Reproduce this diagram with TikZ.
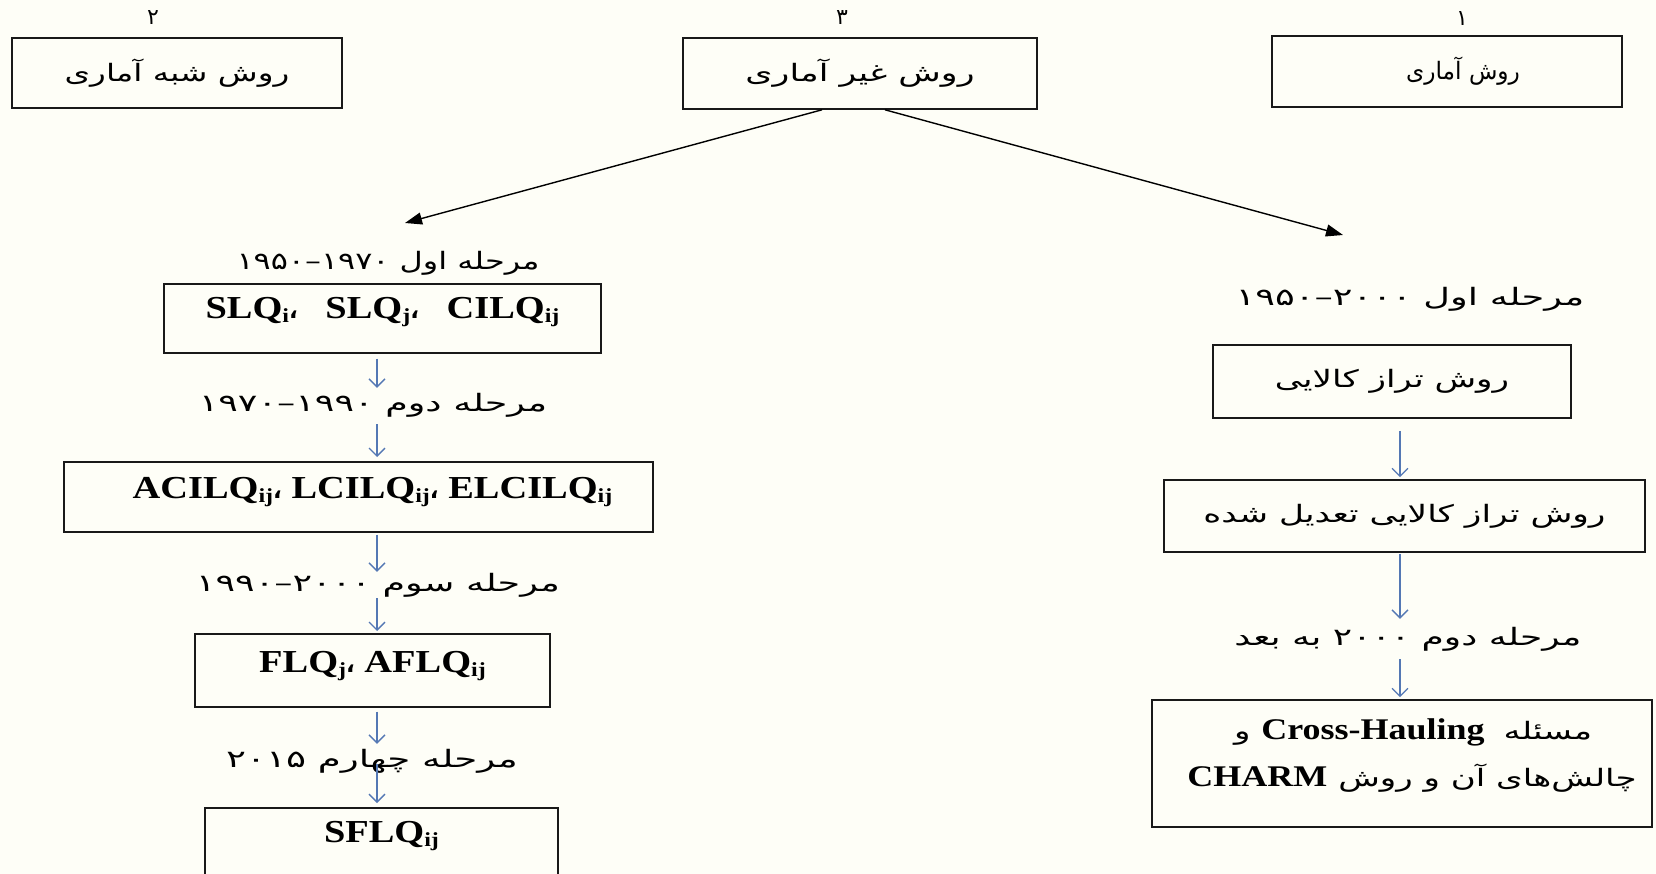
\documentclass[tikz,border=0pt]{standalone}
\usepackage{fontspec}
\usepackage{graphicx}
\usetikzlibrary{arrows.meta}
\setmainfont{Liberation Serif}
\newfontfamily\fa[Script=Arabic]{DejaVu Sans}
\newfontfamily\faw[Script=Arabic,FakeStretch=1.42]{DejaVu Sans}
\newfontfamily\lat[FakeStretch=1.2]{Liberation Serif}
\TeXXeTstate=1
\newcommand{\fx}[2]{\scalebox{#1}[1]{#2}}
\newcommand{\latb}[1]{{\lat\bfseries\fontsize{32}{36}\selectfont #1}}
\newcommand{\latc}[1]{{\lat\bfseries\fontsize{30}{34}\selectfont #1}}
\newcommand{\sbx}[1]{\raisebox{-0.12em}{\fontsize{20}{20}\selectfont #1}}
\newcommand{\acomma}{{\fa\fontsize{23}{24}\selectfont ،}}
\definecolor{bgc}{RGB}{254,254,247}
\definecolor{boxc}{RGB}{25,25,25}
\definecolor{arrc}{RGB}{84,120,180}
\begin{document}
\begin{tikzpicture}[x=1pt,y=-1pt,
  box/.style={draw=boxc, line width=1.6pt, inner sep=0pt},
  tbox/.style={box, inner ysep=0pt, anchor=north},
  fatxt/.style={font=\fa\fontsize{24}{28}\selectfont},
  wtxt/.style={font=\faw\fontsize{24}{28}\selectfont},
  lab/.style={fatxt, inner sep=0pt, text height=15pt, text depth=7pt},
  num/.style={font=\fa\fontsize{22}{24}\selectfont, inner sep=0pt},
  barrow/.style={draw=arrc, line width=1.3pt, -{Straight Barb[length=8pt,width=16pt]}},
  karrow/.style={draw=black, line width=1.4pt, -{Triangle[length=17pt,width=12pt]}}]
\clip (0,0) rectangle (1656,874);
\fill[bgc] (0,0) rectangle (1656,874);
% top row
\node[num] (n2) at (153,18) {۲};
\node[num] (n3) at (842,18) {۳};
\node[num] (n1) at (1462,19) {۱};
\node[box, fatxt, minimum width=330pt, minimum height=70pt] (b2) at (177,73) {\fx{1.36}{\beginR روش شبه آماری\endR}};
\node[box, fatxt, minimum width=354pt, minimum height=71pt] (b3) at (860,73.5) {\fx{1.45}{\beginR روش غیر آماری\endR}};
\node[box, fatxt, minimum width=350pt, minimum height=71pt] (b1) at (1447,71.5) {\hspace*{32pt}\fx{0.97}{\beginR روش آماری\endR}};
\coordinate (tl) at (405,223);
\coordinate (tr) at (1343,235);
\draw[karrow] ([xshift=-38pt]b3.south) -- (tl);
\draw[karrow] ([xshift=25pt]b3.south) -- (tr);
% left column
\coordinate (ax) at (377,0);
\node[lab] (lab1) at (388,266) {\fx{1.33}{\beginR مرحله اول \beginL۱۹۷۰–۱۹۵۰\endL\endR}};
\node[tbox, minimum width=437pt, text height=35pt, text depth=34pt] (l1) at (382.5,283)
  {\latb{SLQ\sbx{i}\acomma\hspace{18pt} SLQ\sbx{j}\acomma\hspace{18pt} CILQ\sbx{ij}}};
\node[lab] (lab2) at (373,407) {\fx{1.52}{\beginR مرحله دوم \beginL۱۹۹۰–۱۹۷۰\endL\endR}};
\node[tbox, minimum width=589pt, text height=37pt, text depth=33pt] (l2) at (358.5,461)
  {\hspace*{28pt}\latb{ACILQ\sbx{ij}\acomma\ LCILQ\sbx{ij}\acomma\ ELCILQ\sbx{ij}}};
\node[lab] (lab3) at (378,587) {\fx{1.52}{\beginR مرحله سوم \beginL۲۰۰۰–۱۹۹۰\endL\endR}};
\node[tbox, minimum width=355pt, text height=39pt, text depth=34pt] (l3) at (372.5,633)
  {\latb{FLQ\sbx{j}\acomma\ AFLQ\sbx{ij}}};
\node[lab] (lab4) at (372,763) {\fx{1.55}{\beginR مرحله چهارم \beginL۲۰۱۵\endL\endR}};
\node[tbox, minimum width=353pt, text height=35pt, text depth=45pt] (l4) at (381.5,807)
  {\latb{SFLQ\sbx{ij}}};
\draw[barrow, shorten <=5pt, shorten >=8pt] (l1.south -| ax) -- (lab2.north -| ax);
\draw[barrow, shorten <=6pt, shorten >=4pt] (lab2.south -| ax) -- (l2.north -| ax);
\draw[barrow, shorten <=2pt, shorten >=4pt] (l2.south -| ax) -- (lab3.north -| ax);
\draw[barrow, shorten >=2pt] (lab3.south -| ax) -- (l3.north -| ax);
\draw[barrow, shorten <=4pt, shorten >=8pt] (l3.south -| ax) -- (lab4.north -| ax);
\draw[barrow, shorten <=-10pt, shorten >=4pt] (lab4.south -| ax) -- (l4.north -| ax);
% right column
\coordinate (rx) at (1400,0);
\node[lab] (labr1) at (1410,302) {\fx{1.53}{\beginR مرحله اول \beginL۲۰۰۰–۱۹۵۰\endL\endR}};
\node[box, fatxt, minimum width=358pt, minimum height=73pt] (r1) at (1392,381.5) {\fx{1.42}{\beginR روش تراز کالایی\endR}};
\node[box, fatxt, minimum width=481pt, minimum height=72pt] (r2) at (1404.5,516) {\fx{1.43}{\beginR روش تراز کالایی تعدیل شده\endR}};
\node[lab] (labr2) at (1408,641) {\fx{1.5}{\beginR مرحله دوم \beginL۲۰۰۰\endL{} به بعد\endR}};
\node[box, minimum width=500pt, minimum height=127pt] (ch) at (1402,763.5) {};
\node[wtxt, inner sep=0pt] (ch1) at (1413,732)
  {\beginR مسئله\hspace{8pt} \beginL\latc{Cross-Hauling}\endL{} و\endR};
\node[wtxt, inner sep=0pt] (ch2) at (1412,778)
  {\beginR چالش‌های آن و روش \beginL\latc{CHARM}\endL\endR};
\draw[barrow, shorten <=12pt, shorten >=2pt] (r1.south -| rx) -- (r2.north -| rx);
\draw[barrow, shorten <=1pt, shorten >=11pt] (r2.south -| rx) -- (labr2.north -| rx);
\draw[barrow, shorten <=7pt, shorten >=2pt] (labr2.south -| rx) -- (ch.north -| rx);
\end{tikzpicture}
\end{document}
